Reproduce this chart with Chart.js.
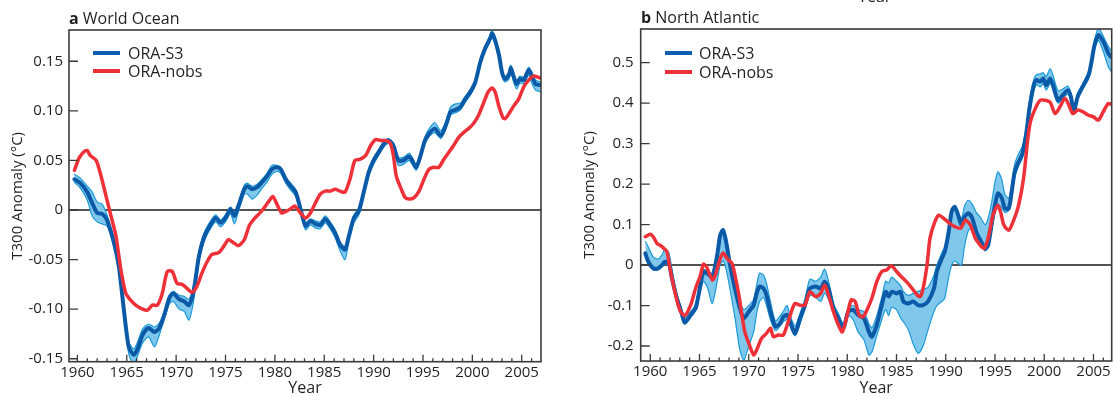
<!DOCTYPE html>
<html lang="en">
<head>
<meta charset="utf-8">
<title>T300 Anomaly</title>
<script src="https://cdn.jsdelivr.net/npm/chart.js"></script>
<style>
  body { margin: 0; background: #fff; }
  #wrap { position: relative; width: 1113px; height: 396px; overflow: hidden; background: #fff;
          font-family: 'Open Sans', sans-serif; color: #231f20; }
  canvas { position: absolute; top: 0; }
  .lbl { position: absolute; font-size: 16px; line-height: 20px; white-space: nowrap; }
  .lbl b { font-weight: 700; }
  .key { position: absolute; width: 27px; height: 4px; }
</style>
</head>
<body>
<div id="wrap">
  <canvas id="chartA" width="556" height="396" style="left:0"></canvas>
  <canvas id="chartB" width="553" height="396" style="left:560px"></canvas>

  <div class="lbl" style="left:69px; top:8px"><b>a</b> World Ocean</div>
  <div class="lbl" style="left:641px; top:7px"><b>b</b> North Atlantic</div>
  <div class="lbl" style="left:858px; top:-14px">Year</div>

  <div class="key" style="left:93px; top:51px; background:#0d5eaf"></div>
  <div class="lbl" style="left:128px; top:43px">ORA-S3</div>
  <div class="key" style="left:93px; top:69px; background:#ee3139"></div>
  <div class="lbl" style="left:128px; top:61px">ORA-nobs</div>

  <div class="key" style="left:665px; top:51px; background:#0d5eaf"></div>
  <div class="lbl" style="left:699px; top:43px">ORA-S3</div>
  <div class="key" style="left:665px; top:70px; background:#ee3139"></div>
  <div class="lbl" style="left:699px; top:62px">ORA-nobs</div>
</div>

<script>
// ---- panel a: World Ocean ----
const woYears = [
  1959.7,1960.3,1961.0,1961.5,1962.0,1962.5,1963.0,1963.7,1964.2,1964.7,
  1965.2,1965.7,1966.1,1966.6,1967.2,1967.8,1968.3,1968.8,1969.3,1969.7,
  1970.3,1970.8,1971.3,1971.8,1972.3,1972.8,1973.3,1974.0,1974.5,1975.0,
  1975.5,1975.9,1976.3,1976.9,1977.2,1977.7,1978.2,1978.7,1979.2,1979.7,
  1980.2,1980.6,1981.1,1981.6,1982.1,1982.6,1983.1,1983.6,1984.1,1984.6,
  1985.1,1985.6,1986.1,1986.6,1987.1,1987.5,1988.0,1988.5,1989.0,1989.5,
  1990.0,1990.5,1991.0,1991.5,1992.0,1992.5,1993.0,1993.6,1993.9,1994.3,
  1994.7,1995.2,1995.7,1996.2,1996.8,1997.3,1997.8,1998.3,1998.8,1999.3,
  1999.8,2000.3,2000.8,2001.3,2001.8,2002.0,2002.3,2002.7,2003.0,2003.3,
  2003.7,2003.9,2004.2,2004.5,2004.8,2005.2,2005.7,2006.0,2006.4,2006.9
];
const woS3 = [
  0.031,0.027,0.018,0.007,-0.003,-0.004,-0.010,-0.033,-0.057,-0.100,
  -0.138,-0.146,-0.140,-0.126,-0.119,-0.123,-0.119,-0.106,-0.089,-0.084,
  -0.090,-0.092,-0.096,-0.080,-0.047,-0.028,-0.018,-0.008,-0.013,-0.008,
  0.001,-0.006,0.004,0.021,0.024,0.021,0.023,0.028,0.034,0.041,
  0.043,0.041,0.031,0.024,0.018,0.001,-0.016,-0.011,-0.014,-0.015,
  -0.009,-0.015,-0.023,-0.035,-0.040,-0.026,-0.008,-0.001,0.018,0.038,
  0.050,0.058,0.066,0.070,0.065,0.050,0.050,0.054,0.050,0.043,
  0.053,0.070,0.078,0.082,0.075,0.085,0.099,0.101,0.104,0.112,
  0.119,0.129,0.149,0.163,0.173,0.178,0.171,0.156,0.139,0.132,
  0.136,0.143,0.134,0.127,0.132,0.131,0.141,0.136,0.127,0.126
];
const woS3Lo = [
  0.028,0.022,0.010,-0.006,-0.012,-0.014,-0.016,-0.036,-0.060,-0.105,
  -0.145,-0.156,-0.147,-0.134,-0.128,-0.138,-0.126,-0.110,-0.095,-0.092,
  -0.100,-0.102,-0.111,-0.090,-0.052,-0.033,-0.022,-0.012,-0.017,-0.012,
  -0.004,-0.014,-0.002,0.016,0.016,0.011,0.015,0.022,0.028,0.036,
  0.039,0.037,0.027,0.020,0.014,-0.003,-0.020,-0.015,-0.018,-0.019,
  -0.013,-0.019,-0.028,-0.041,-0.050,-0.032,-0.013,-0.005,0.014,0.034,
  0.046,0.055,0.063,0.067,0.061,0.045,0.046,0.050,0.046,0.040,
  0.050,0.067,0.075,0.078,0.072,0.082,0.096,0.098,0.101,0.109,
  0.116,0.126,0.146,0.160,0.170,0.175,0.168,0.153,0.136,0.129,
  0.132,0.139,0.128,0.122,0.128,0.127,0.136,0.128,0.121,0.119
];
const woS3Hi = [
  0.036,0.032,0.024,0.018,0.008,0.006,-0.005,-0.030,-0.054,-0.097,
  -0.133,-0.140,-0.133,-0.120,-0.115,-0.118,-0.114,-0.102,-0.086,-0.082,
  -0.086,-0.087,-0.090,-0.075,-0.043,-0.024,-0.014,-0.005,-0.010,-0.005,
  0.003,-0.003,0.007,0.025,0.027,0.024,0.026,0.031,0.037,0.045,
  0.045,0.043,0.033,0.027,0.021,0.004,-0.013,-0.009,-0.011,-0.012,
  -0.006,-0.012,-0.020,-0.032,-0.037,-0.023,-0.005,0.002,0.021,0.041,
  0.053,0.061,0.069,0.072,0.068,0.053,0.053,0.057,0.053,0.046,
  0.056,0.074,0.083,0.088,0.080,0.089,0.104,0.107,0.108,0.115,
  0.122,0.132,0.152,0.166,0.176,0.181,0.174,0.159,0.142,0.135,
  0.139,0.146,0.137,0.130,0.135,0.134,0.144,0.139,0.131,0.129
];
const woNobsYears = [
  1959.7,1960.2,1960.7,1961.0,1961.3,1961.9,1962.4,1962.9,1963.4,1963.9,
  1964.4,1964.9,1965.4,1965.9,1966.6,1967.1,1967.6,1968.1,1968.6,1969.1,
  1969.6,1970.1,1970.6,1971.1,1971.6,1972.1,1972.6,1973.1,1973.6,1974.3,
  1974.8,1975.3,1975.8,1976.3,1976.9,1977.4,1977.9,1978.4,1978.9,1979.4,
  1979.8,1980.2,1980.7,1981.2,1981.7,1982.0,1982.6,1983.1,1983.6,1984.1,
  1984.6,1985.1,1985.6,1986.1,1986.6,1987.1,1987.6,1988.1,1988.6,1989.2,
  1989.7,1990.2,1990.8,1991.3,1991.7,1992.0,1992.3,1992.8,1993.2,1993.6,
  1994.1,1994.6,1995.1,1995.6,1996.1,1996.6,1997.1,1997.6,1998.1,1998.6,
  1999.1,1999.6,2000.1,2000.6,2001.1,2001.6,2002.0,2002.3,2002.7,2003.1,
  2003.3,2003.7,2004.2,2004.7,2005.2,2005.7,2006.2,2006.9
];
const woNobs = [
  0.040,0.053,0.059,0.060,0.055,0.050,0.034,0.014,-0.006,-0.026,
  -0.060,-0.084,-0.091,-0.096,-0.100,-0.101,-0.096,-0.096,-0.084,-0.062,
  -0.062,-0.074,-0.075,-0.079,-0.083,-0.077,-0.064,-0.053,-0.045,-0.043,
  -0.037,-0.030,-0.033,-0.036,-0.030,-0.016,-0.009,-0.004,0.002,0.009,
  0.0135,0.006,-0.003,-0.001,0.002,0.004,-0.003,-0.008,-0.003,0.007,
  0.016,0.019,0.019,0.021,0.019,0.018,0.031,0.050,0.051,0.055,
  0.065,0.071,0.070,0.070,0.067,0.055,0.034,0.021,0.0125,0.011,
  0.0125,0.019,0.031,0.041,0.043,0.043,0.051,0.058,0.065,0.073,
  0.078,0.082,0.087,0.095,0.107,0.119,0.123,0.119,0.104,0.093,
  0.092,0.097,0.105,0.112,0.124,0.131,0.135,0.133
];

// ---- panel b: North Atlantic ----
const naYears = [
  1959.5,1959.8,1960.3,1960.8,1961.2,1961.5,1961.9,1962.2,1962.7,1963.2,
  1963.5,1964.1,1964.6,1964.9,1965.4,1965.8,1966.3,1966.8,1967.1,1967.4,
  1967.7,1968.1,1968.6,1969.1,1969.5,1970.0,1970.5,1970.8,1971.1,1971.5,
  1971.8,1972.2,1972.7,1973.2,1973.5,1973.9,1974.2,1974.7,1975.2,1975.7,
  1976.2,1976.8,1977.3,1977.7,1978.1,1978.6,1979.1,1979.6,1980.1,1980.6,
  1981.1,1981.7,1982.2,1982.5,1983.0,1983.5,1983.9,1984.2,1984.5,1985.0,
  1985.4,1985.7,1986.2,1986.7,1987.2,1987.7,1988.2,1988.8,1989.1,1989.6,
  1989.9,1990.3,1990.6,1990.9,1991.2,1991.6,1991.9,1992.3,1992.7,1993.1,
  1993.6,1994.0,1994.3,1994.7,1995.0,1995.3,1995.7,1996.0,1996.4,1996.7,
  1997.0,1997.4,1997.8,1998.2,1998.5,1998.9,1999.2,1999.6,1999.9,2000.2,
  2000.6,2000.9,2001.4,2001.9,2002.4,2002.7,2003.0,2003.4,2003.9,2004.5,
  2004.8,2005.1,2005.5,2005.8,2006.1,2006.5,2006.8
];
const naS3 = [
  0.029,0.008,-0.008,-0.008,0.000,0.008,0.004,-0.033,-0.082,-0.120,
  -0.142,-0.123,-0.107,-0.074,-0.016,-0.021,-0.029,0.025,0.074,0.086,
  0.058,0.000,-0.058,-0.107,-0.132,-0.115,-0.099,-0.070,-0.053,-0.058,
  -0.074,-0.115,-0.152,-0.144,-0.128,-0.123,-0.140,-0.169,-0.132,-0.099,
  -0.058,-0.053,-0.058,-0.041,-0.058,-0.107,-0.132,-0.156,-0.115,-0.111,
  -0.123,-0.132,-0.165,-0.177,-0.148,-0.099,-0.066,-0.078,-0.066,-0.070,
  -0.066,-0.090,-0.095,-0.090,-0.099,-0.099,-0.090,-0.058,-0.016,0.016,
  0.033,0.082,0.132,0.144,0.128,0.099,0.119,0.128,0.115,0.082,
  0.058,0.040,0.049,0.107,0.148,0.177,0.165,0.140,0.140,0.181,
  0.230,0.255,0.276,0.329,0.387,0.440,0.457,0.453,0.461,0.444,
  0.461,0.444,0.407,0.420,0.432,0.416,0.379,0.416,0.440,0.469,
  0.502,0.543,0.568,0.560,0.547,0.523,0.514
];
const naS3Lo = [
  0.025,0.004,-0.012,-0.012,-0.004,0.004,-0.002,-0.040,-0.090,-0.128,
  -0.146,-0.130,-0.112,-0.085,-0.040,-0.055,-0.095,-0.040,0.000,0.010,
  -0.010,-0.060,-0.130,-0.210,-0.235,-0.200,-0.165,-0.120,-0.090,-0.080,
  -0.100,-0.135,-0.162,-0.150,-0.140,-0.135,-0.150,-0.175,-0.145,-0.110,
  -0.075,-0.080,-0.090,-0.070,-0.085,-0.120,-0.145,-0.162,-0.125,-0.135,
  -0.165,-0.185,-0.222,-0.215,-0.175,-0.135,-0.110,-0.125,-0.105,-0.110,
  -0.130,-0.140,-0.160,-0.195,-0.218,-0.200,-0.160,-0.115,-0.100,-0.090,
  -0.082,-0.030,0.000,0.010,0.005,0.000,0.045,0.085,0.090,0.065,
  0.050,0.035,0.045,0.090,0.130,0.150,0.140,0.130,0.135,0.170,
  0.215,0.245,0.265,0.315,0.370,0.425,0.445,0.440,0.448,0.432,
  0.448,0.432,0.400,0.412,0.422,0.408,0.375,0.410,0.434,0.460,
  0.492,0.530,0.555,0.540,0.520,0.490,0.478
];
const naS3Hi = [
  0.058,0.045,0.020,0.015,0.025,0.040,0.030,-0.010,-0.070,-0.110,
  -0.130,-0.115,-0.098,-0.068,-0.012,-0.015,-0.020,0.030,0.080,0.090,
  0.065,0.010,-0.040,-0.090,-0.110,-0.100,-0.085,-0.050,-0.020,-0.025,
  -0.045,-0.090,-0.138,-0.125,-0.115,-0.100,-0.125,-0.150,-0.120,-0.085,
  -0.035,-0.040,-0.030,-0.010,-0.040,-0.095,-0.120,-0.145,-0.105,-0.100,
  -0.110,-0.115,-0.145,-0.155,-0.125,-0.080,-0.040,-0.045,-0.030,-0.040,
  -0.050,-0.065,-0.075,-0.070,-0.065,-0.060,-0.055,-0.025,0.000,0.030,
  0.045,0.085,0.135,0.146,0.132,0.115,0.145,0.160,0.150,0.130,
  0.115,0.100,0.115,0.160,0.205,0.230,0.210,0.175,0.165,0.200,
  0.250,0.275,0.295,0.345,0.405,0.455,0.470,0.472,0.475,0.465,
  0.485,0.468,0.430,0.435,0.442,0.425,0.388,0.425,0.448,0.478,
  0.512,0.555,0.585,0.575,0.560,0.540,0.530
];
const naNobsYears = [
  1959.5,1960.0,1960.3,1960.7,1961.0,1961.4,1961.7,1962.0,1962.5,1963.0,
  1963.5,1964.1,1964.6,1965.1,1965.4,1965.7,1966.3,1966.6,1967.1,1967.4,
  1967.8,1968.3,1968.6,1969.0,1969.3,1969.6,1970.0,1970.5,1970.8,1971.3,
  1971.8,1972.2,1972.5,1973.0,1973.5,1973.9,1974.4,1974.7,1975.2,1975.7,
  1976.2,1976.8,1977.3,1977.7,1978.1,1978.6,1979.1,1979.5,1980.0,1980.4,
  1980.8,1981.2,1981.6,1982.0,1982.5,1983.0,1983.5,1984.0,1984.5,1985.0,
  1985.5,1986.0,1986.6,1987.1,1987.4,1987.7,1988.1,1988.4,1988.9,1989.3,
  1989.8,1990.4,1990.9,1991.5,1992.0,1992.5,1993.0,1993.5,1993.9,1994.3,
  1994.8,1995.3,1995.6,1995.9,1996.4,1996.9,1997.4,1997.9,1998.3,1998.6,
  1999.1,1999.6,2000.1,2000.6,2001.1,2001.6,2002.1,2002.5,2002.9,2003.4,
  2003.9,2004.5,2005.0,2005.5,2006.0,2006.5,2006.8
];
const naNobs = [
  0.070,0.076,0.070,0.053,0.049,0.041,0.033,-0.008,-0.066,-0.111,
  -0.125,-0.099,-0.058,-0.025,0.002,-0.004,-0.037,-0.025,0.016,0.030,
  0.016,0.004,-0.025,-0.074,-0.123,-0.165,-0.193,-0.222,-0.210,-0.181,
  -0.169,-0.156,-0.177,-0.173,-0.173,-0.148,-0.110,-0.095,-0.099,-0.099,
  -0.066,-0.078,-0.070,-0.049,-0.074,-0.115,-0.148,-0.165,-0.123,-0.086,
  -0.090,-0.123,-0.128,-0.111,-0.082,-0.041,-0.016,-0.012,-0.002,-0.016,
  -0.029,-0.041,-0.058,-0.074,-0.078,-0.058,0.000,0.066,0.107,0.123,
  0.115,0.103,0.095,0.091,0.111,0.099,0.066,0.049,0.041,0.066,
  0.123,0.148,0.128,0.099,0.086,0.111,0.148,0.214,0.305,0.354,
  0.387,0.407,0.407,0.402,0.374,0.391,0.412,0.395,0.374,0.383,
  0.379,0.370,0.366,0.358,0.379,0.399,0.397
];

const INK = '#231f20';
Chart.defaults.font.family = "'Open Sans', sans-serif";
Chart.defaults.font.size = 15;
Chart.defaults.color = INK;

const pts = (xs, ys) => xs.map((x, i) => ({ x: x, y: ys[i] }));

// box, zero line and inward ticks
const framePlugin = {
  id: 'frame',
  beforeDatasetsDraw(chart) {
    const { ctx, chartArea: a, scales: { y } } = chart;
    const y0 = y.getPixelForValue(0);
    ctx.save();
    ctx.strokeStyle = '#1a1a1a';
    ctx.lineWidth = 1.5;
    ctx.beginPath();
    ctx.moveTo(a.left, y0);
    ctx.lineTo(a.right, y0);
    ctx.stroke();
    ctx.restore();
  },
  afterDatasetsDraw(chart) {
    const { ctx, chartArea: a, scales: { x, y } } = chart;
    ctx.save();
    ctx.strokeStyle = '#3a3a3a';
    ctx.lineWidth = 1.6;
    ctx.strokeRect(a.left, a.top, a.right - a.left, a.bottom - a.top);
    ctx.lineWidth = 1.3;
    ctx.beginPath();
    y.ticks.forEach(t => {
      const py = y.getPixelForValue(t.value);
      ctx.moveTo(a.left, py);
      ctx.lineTo(a.left + 9, py);
    });
    for (let yr = Math.ceil(x.min); yr <= x.max; yr++) {
      const px = x.getPixelForValue(yr);
      const len = yr % 5 === 0 ? 7 : 3.5;
      ctx.moveTo(px, a.bottom);
      ctx.lineTo(px, a.bottom - len);
    }
    ctx.stroke();
    ctx.restore();
  }
};

function makePanel(id, d, opt) {
  const datasets = [
    { data: pts(d.years, d.hi), borderColor: '#1d9bd8', borderWidth: 1.2,
      backgroundColor: '#80c7ec', fill: '+1', order: 4 },
    { data: pts(d.years, d.lo), borderColor: '#1d9bd8', borderWidth: 1.2,
      fill: false, order: 3 },
    { label: 'ORA-S3', data: pts(d.years, d.s3), borderColor: '#0b5aa8',
      borderWidth: 4, fill: false, order: 2 },
    { label: 'ORA-nobs', data: pts(d.nobsYears, d.nobs), borderColor: '#ee3139',
      borderWidth: 3.5, fill: false, order: 1 }
  ];
  datasets.forEach(ds => {
    ds.pointRadius = 0;
    ds.tension = 0.25;
    ds.clip = 0;
    ds.borderJoinStyle = 'round';
    ds.borderCapStyle = 'round';
  });

  return new Chart(document.getElementById(id), {
    type: 'line',
    data: { datasets: datasets },
    options: {
      responsive: false,
      animation: false,
      events: [],
      layout: { padding: { top: opt.padTop, right: opt.padRight, left: 0, bottom: 0 } },
      plugins: { legend: { display: false }, title: { display: false }, tooltip: { enabled: false } },
      scales: {
        x: {
          type: 'linear',
          min: opt.xMin, max: opt.xMax,
          grid: { display: false, drawTicks: false },
          border: { display: false },
          ticks: { stepSize: 5, includeBounds: false, autoSkip: false, maxRotation: 0,
                   padding: 2, callback: v => String(v) },
          title: { display: true, text: 'Year', font: { size: 16, lineHeight: 1 },
                   padding: { top: 0, bottom: 0 } },
          afterFit: s => { s.height = opt.xHeight; }
        },
        y: {
          min: opt.yMin, max: opt.yMax,
          grid: { display: false, drawTicks: false },
          border: { display: false },
          ticks: { stepSize: opt.yStep, includeBounds: false, padding: opt.yTickPad,
                   callback: v => Math.abs(v) < 1e-9 ? '0' : v.toFixed(opt.yDigits) },
          title: { display: true, text: 'T300 Anomaly (°C)', font: { size: 15 },
                   padding: { top: opt.yTitlePad, bottom: 0 } },
          afterFit: s => { s.width = opt.yWidth; }
        }
      }
    },
    plugins: [framePlugin]
  });
}

makePanel('chartA',
  { years: woYears, s3: woS3, lo: woS3Lo, hi: woS3Hi, nobsYears: woNobsYears, nobs: woNobs },
  { xMin: 1959.15, xMax: 2006.95, yMin: -0.153, yMax: 0.1815, yStep: 0.05, yDigits: 2,
    padTop: 30, padRight: 15, xHeight: 34.3, yWidth: 69, yTickPad: 6, yTitlePad: 9 });

makePanel('chartB',
  { years: naYears, s3: naS3, lo: naS3Lo, hi: naS3Hi, nobsYears: naNobsYears, nobs: naNobs },
  { xMin: 1959.03, xMax: 2006.85, yMin: -0.237, yMax: 0.583, yStep: 0.1, yDigits: 1,
    padTop: 29, padRight: 1.3, xHeight: 35, yWidth: 80.7, yTickPad: 7, yTitlePad: 21 });
</script>
</body>
</html>
